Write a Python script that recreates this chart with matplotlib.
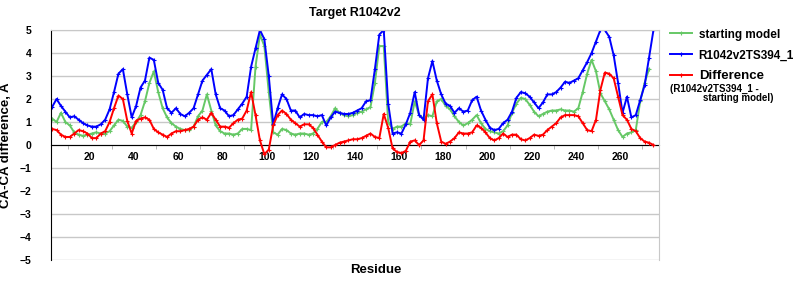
import matplotlib
matplotlib.use("Agg")
import matplotlib.pyplot as plt
import numpy as np

plt.rcParams["font.family"] = ["Liberation Sans", "DejaVu Sans"]

residues = np.arange(3, 277, 2)

starting_model = [
    1.15, 1.0, 1.4, 1.0, 0.85, 0.55, 0.45, 0.4, 0.45, 0.5,
    0.55, 0.5, 0.5, 0.6, 0.85, 1.1, 1.05, 0.8, 0.75, 1.0,
    1.3, 1.9, 2.7, 3.2, 2.3, 1.6, 1.2, 0.95, 0.8, 0.7,
    0.65, 0.65, 0.8, 1.25, 1.5, 2.2, 1.5, 0.85, 0.6, 0.5,
    0.5, 0.45, 0.5, 0.7, 0.7, 0.65, 3.4, 4.8, 4.3, 2.3,
    0.55, 0.45, 0.7, 0.65, 0.5, 0.45, 0.5, 0.5, 0.45, 0.5,
    0.7, 1.0, 1.0, 1.25, 1.6, 1.4, 1.3, 1.25, 1.3, 1.4,
    1.45, 1.55, 1.65, 2.7, 4.3, 4.3, 1.0, 0.7, 0.8,
    0.8, 0.95, 0.9, 1.9, 1.3, 1.15, 1.3, 1.25, 1.9, 2.0,
    1.7, 1.55, 1.25, 1.0, 0.85, 0.95, 1.1, 1.3, 0.95, 0.7,
    0.6, 0.55, 0.5, 0.6, 0.85, 1.4, 1.8, 2.05, 2.0, 1.75,
    1.45, 1.25, 1.35, 1.45, 1.5, 1.5, 1.55, 1.5, 1.5, 1.45,
    1.6, 2.3, 3.1, 3.7, 3.2, 2.25, 1.9, 1.55, 1.1, 0.65,
    0.35, 0.5, 0.55, 0.65, 1.9, 2.7, 3.3,
]

model_ts394 = [
    1.65, 2.0, 1.7, 1.45, 1.2, 1.25, 1.1, 0.95, 0.85, 0.8,
    0.8, 0.9, 1.1, 1.55, 2.3, 3.1, 3.3, 2.2, 1.2, 1.7,
    2.5, 2.8, 3.8, 3.7, 2.7, 2.4, 1.6, 1.4, 1.6, 1.35,
    1.25, 1.4, 1.6, 2.2, 2.8, 3.05, 3.3, 2.2, 1.6, 1.5,
    1.25, 1.3, 1.55, 1.8, 2.1, 3.4, 4.2, 5.0, 4.6, 3.0,
    0.9, 1.6, 2.2, 2.0, 1.5, 1.5, 1.2, 1.35, 1.3, 1.3,
    1.25, 1.3, 0.85, 1.2, 1.45, 1.4, 1.35, 1.35, 1.4, 1.5,
    1.6, 1.9, 1.95, 3.3, 4.8, 5.0, 1.8, 0.5, 0.55,
    0.5, 0.9, 1.4, 2.3, 1.3, 1.1, 2.9, 3.65, 2.8, 2.2,
    1.8, 1.7, 1.4, 1.6, 1.45, 1.5, 1.95, 2.1, 1.5, 1.1,
    0.75, 0.65, 0.7, 0.95, 1.1, 1.45, 2.05, 2.3, 2.25, 2.1,
    1.85, 1.6, 1.85, 2.2, 2.2, 2.3, 2.5, 2.75, 2.7, 2.8,
    2.9, 3.25, 3.6, 4.0, 4.5, 5.0, 5.0, 4.7, 3.9, 2.7,
    1.4, 2.1, 1.2, 1.3, 1.95, 2.6, 3.8, 5.0,
]

difference = [
    0.7, 0.65, 0.45, 0.35, 0.35, 0.5, 0.65, 0.6, 0.5, 0.3,
    0.3, 0.5, 0.6, 1.0, 1.6, 2.15, 2.0, 1.05, 0.5, 1.05,
    1.15, 1.2, 1.1, 0.7, 0.55, 0.45, 0.35, 0.5, 0.6, 0.6,
    0.65, 0.7, 0.8, 1.1, 1.2, 1.1, 1.4, 1.1, 0.8, 0.8,
    0.75, 0.95, 1.1, 1.15, 1.5, 2.3, 1.3, 0.2, -0.4, -0.2,
    0.85, 1.3, 1.5, 1.35, 1.1, 0.95, 0.8, 0.9, 0.9, 0.75,
    0.45, 0.15, -0.1, -0.1, 0.0, 0.1, 0.15, 0.2, 0.25, 0.25,
    0.3, 0.4, 0.5, 0.35, 0.3, 1.35, 0.75, -0.15, -0.3,
    -0.35, -0.25, 0.15, 0.2, 0.0, 0.2, 1.9, 2.2, 0.95, 0.15,
    0.05, 0.15, 0.3, 0.55, 0.5, 0.5, 0.55, 0.85, 0.75, 0.55,
    0.3, 0.2, 0.3, 0.5, 0.35, 0.45, 0.45, 0.25, 0.2, 0.3,
    0.45, 0.4, 0.45, 0.65, 0.8, 0.95, 1.2, 1.3, 1.3, 1.3,
    1.25, 0.95, 0.65, 0.6, 1.1, 2.4, 3.15, 3.1, 2.9, 2.1,
    1.3, 1.1, 0.7, 0.6, 0.3, 0.15, 0.1, 0.0,
]

series = [
    ("starting model", starting_model, "#66c866"),
    ("R1042v2TS394_1", model_ts394, "#0000ff"),
    ("Difference", difference, "#ff0000"),
]

fig = plt.figure(figsize=(8, 3), dpi=100)
ax = fig.add_axes([0.06375, 0.1333, 0.76, 0.7667])

for label, vals, color in series:
    ax.plot(residues[:len(vals)], vals, color=color, lw=1.4, marker="+",
            ms=3, mew=0.8, label=label)

ax.set_xlim(2.5, 277.5)
ax.set_ylim(-5, 5)

# horizontal grid, zero line drawn as the x axis
ax.set_yticks(np.arange(-5, 6, 1))
ax.yaxis.grid(True, color="#c8c8c8", lw=1)
ax.set_axisbelow(True)

ax.spines["left"].set_color("black")
ax.spines["right"].set_color("#c8c8c8")
ax.spines["top"].set_color("#c8c8c8")
ax.spines["bottom"].set_position(("data", 0))
ax.spines["bottom"].set_color("black")
ax.spines["bottom"].set_zorder(1.5)

ax.set_xticks(np.arange(20, 261, 20))
ax.set_xticks(np.arange(10, 271, 20), minor=True)
ax.tick_params(axis="x", which="major", length=0, pad=5, labelsize=7.5)
ax.tick_params(axis="x", which="minor", length=3, color="#aaaaaa", direction="out")
ax.tick_params(axis="y", length=0, pad=14, labelsize=7.5)
for t in ax.get_xticklabels() + ax.get_yticklabels():
    t.set_fontweight("bold")

ax.set_title("Target R1042v2", fontsize=9, fontweight="bold", pad=10)
ax.set_ylabel("CA-CA difference, A", fontsize=9.5, fontweight="bold")
ax.yaxis.set_label_coords(-0.064, 0.5)
fig.text(376 / 800, 1 - 270 / 300, "Residue", fontsize=9.5, fontweight="bold",
         ha="center", va="center")

leg = fig.legend(loc="upper left", bbox_to_anchor=(0.824, 0.94), frameon=False,
                 handlelength=1.9, handletextpad=0.55, labelspacing=0.75,
                 prop={"weight": "bold", "size": 8.5})
leg.get_texts()[2].set_fontsize(9.5)
fig.text(670 / 800, 1 - 89 / 300, "(R1042v2TS394_1 -", fontsize=7,
         fontweight="bold", va="center")
fig.text(703 / 800, 1 - 98 / 300, "starting model)", fontsize=7,
         fontweight="bold", va="center")

fig.savefig("out.png", dpi=100)
